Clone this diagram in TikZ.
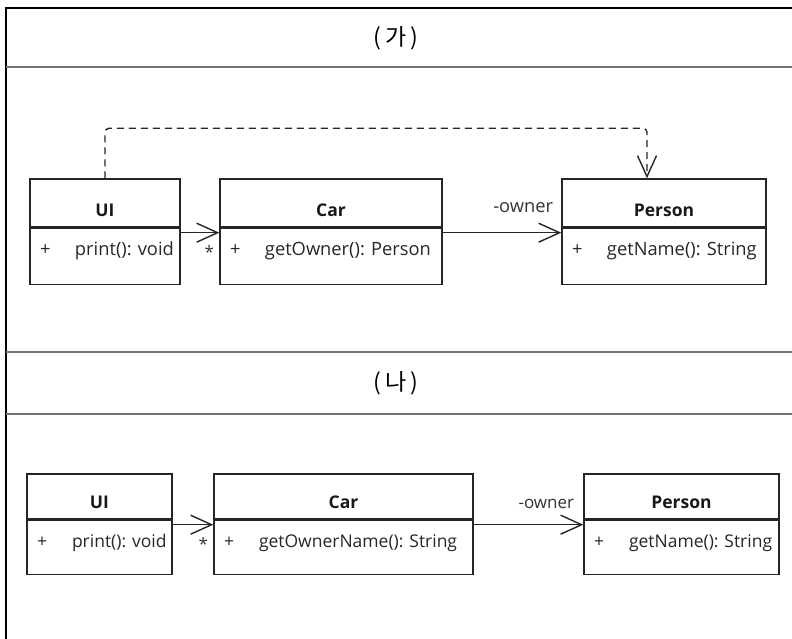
\documentclass[tikz,border=0pt]{standalone}
\usepackage{fontspec}
\setmainfont{Open Sans}
\newfontfamily\krfont{Noto Sans CJK KR}
\usetikzlibrary{arrows.meta,positioning,calc}
\frenchspacing
\tikzset{
  frameline/.style={draw=black!55, line width=1.8pt},
  hdr/.style={font=\krfont\fontsize{23}{26}\selectfont, inner sep=0pt},
  clsname/.style={draw=black!85, line width=1.4pt, inner sep=0pt, text height=37pt, text depth=11pt,
    font=\fontsize{17.5}{20}\selectfont\bfseries, text=black!90},
  clsops/.style={draw=black!85, line width=1.4pt, inner ysep=0pt, inner xsep=10pt, align=left,
    text height=27pt, text depth=29pt, font=\fontsize{17.5}{20}\selectfont, text=black!85},
  big/.style={font=\fontsize{18.3}{21}\selectfont},
  assoc/.style={draw=black!85, line width=1.4pt, -{Straight Barb[length=21pt,width=19pt,line width=1.4pt]}},
  dep/.style={assoc, dash pattern=on 7pt off 5pt, rounded corners=4pt},
  lbl/.style={font=\fontsize{17}{20}\selectfont, text=black!80, inner sep=0pt},
}
\newcommand{\op}[1]{\mbox{\makebox[35pt][l]{+}#1}}
\begin{document}
\begin{tikzpicture}[x=1pt,y=-1pt]
\useasboundingbox (0,0) rectangle (792,639);
% frame
\draw[line width=2pt] (6,639) -- (6,8) -- (792,8);
\draw[frameline] (6,67) -- (792,67);
\draw[frameline] (6,352) -- (792,352);
\draw[frameline] (6,414) -- (792,414);
\node[hdr] (ttl1) at (396,38) {(\,가\,)};
\node[hdr] (ttl2) at (396,383) {(\,나\,)};

% (ga)
\node[clsname, minimum width=150pt] (ui1) at (105,203) {UI};
\node[clsops, big, text width=130pt, below=0pt of ui1] (ui1ops) {\op{print(): void}};
\node[clsname, minimum width=222pt] (car1) at (331,203) {Car};
\node[clsops, big, text width=202pt, below=0pt of car1] (car1ops) {\op{getOwner(): Person}};
\node[clsname, minimum width=204pt] (per1) at (664,203) {Person};
\node[clsops, big, text width=184pt, below=0pt of per1] (per1ops) {\op{getName(): String}};

\draw[assoc] ($(ui1ops.north east)+(0,5)$) -- ($(car1ops.north west)+(0,5)$);
\node[lbl] (mult1) at ($(car1ops.north west)+(-10,24)$) {*};
\draw[assoc] ($(car1ops.north east)+(0,5)$) -- ($(per1ops.north west)+(0,5)$);
\node[lbl, big, anchor=base east] (own1) at ($(per1ops.north west)+(-8,-15)$) {-owner};
\draw[dep] (ui1.north) -- ++(0,-50) -| ([xshift=-17pt]per1.north);

% (na)
\node[clsname, minimum width=145pt, text height=34pt] (ui2) at (99.5,496.5) {UI};
\node[clsops, text width=125pt, text depth=27pt, below=0pt of ui2] (ui2ops) {\op{print(): void}};
\node[clsname, minimum width=259pt, text height=34pt] (car2) at (343.5,496.5) {Car};
\node[clsops, text width=239pt, text depth=27pt, below=0pt of car2] (car2ops) {\op{getOwnerName(): String}};
\node[clsname, minimum width=195pt, text height=34pt] (per2) at (681.5,496.5) {Person};
\node[clsops, text width=175pt, text depth=27pt, below=0pt of per2] (per2ops) {\op{getName(): String}};

\draw[assoc] ($(ui2ops.north east)+(0,5)$) -- ($(car2ops.north west)+(0,5)$);
\node[lbl] (mult2) at ($(car2ops.north west)+(-10,24)$) {*};
\draw[assoc] ($(car2ops.north east)+(0,5)$) -- ($(per2ops.north west)+(0,5)$);
\node[lbl, anchor=base east] (own2) at ($(per2ops.north west)+(-9,-11)$) {-owner};
\end{tikzpicture}
\end{document}
